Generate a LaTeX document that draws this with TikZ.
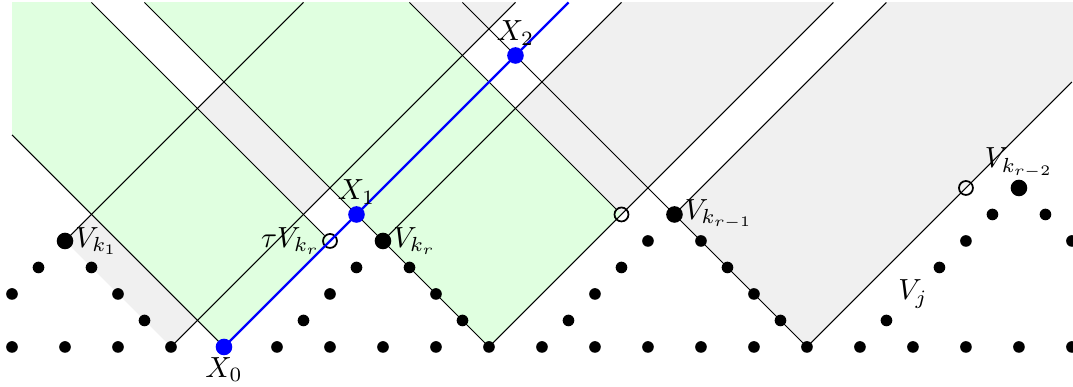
\documentclass[tikz,border=0pt]{standalone}
\usepackage{amsmath,amssymb}
\usepackage{xcolor}
\usepackage{tikz}
\usetikzlibrary{calc}

\begin{document}
\begin{tikzpicture}[
  x=0.32cm, y=0.32cm,
  every node/.style={font=\normalsize},
  dot/.style={circle, fill=black, inner sep=0pt, minimum size=4pt},
  bigdot/.style={circle, fill=black, inner sep=0pt, minimum size=5.7pt},
  walker/.style={circle, fill=blue, inner sep=0pt, minimum size=5.7pt},
  shifted/.style={circle, draw=black, line width=0.6pt, inner sep=0pt, minimum size=4.8pt},
  coneline/.style={black, line width=0.35pt},
]

%% ── Frame: one lattice step = 0.32 cm ────────────────────────────────────
\def\ytop{13}      % top of the shaded strip
\def\xright{40.04} % right edge of the picture
\useasboundingbox (-0.453,-1.51) rectangle (\xright,13.094);

%% ── Points ───────────────────────────────────────────────────────────────
\coordinate (X0) at (8,0);
\coordinate (X1) at (13,5);
\coordinate (X2) at (19,11);
\coordinate (Vk1) at (2,4);
\coordinate (Vkr) at (14,4);
\coordinate (Vkr1) at (25,5);
\coordinate (Vkr2) at (38,6);
\coordinate (tVkr) at (12,4);
\coordinate (tVkr1) at (23,5);
\coordinate (tVkr2) at (36,6);
\coordinate (B6) at (6,0);
\coordinate (B18) at (18,0);
\coordinate (B30) at (30,0);

% free ends of the cone lines (top and side edges)
\coordinate (left8) at (0,8);
\coordinate (right10) at (40,10);
\foreach \t in {3,5,11,15,17,19,21,23,31,33}
  \coordinate (top\t) at (\t,\ytop);

%% ── Shading: cones, even-odd ─────────────────────────────────────────────
\begin{scope}
  \clip (0,0) rectangle (\xright,\ytop);
  % strip under V_{k_1}: cone of B6 without the cone of V_{k_1}
  \fill[gray!12, even odd rule]
    (Vk1) -- (B6) -- ++(16,16) -- ++(-8,0) -- cycle
    foreach \p in {Vkr,B18,Vkr1,B30}{ (\p) -- ++(-16,16) -- ++(32,0) -- cycle };
  \fill[green!12, even odd rule]
    foreach \p in {X0,tVkr,B18,tVkr1}{ (\p) -- ++(-16,16) -- ++(32,0) -- cycle };
\end{scope}

%% ── Shifted points (open) ───────────────────────────────────────────────
\node[shifted] (tvkr) at (tVkr) {};
\node[shifted] (tvkr1) at (tVkr1) {};
\node[shifted] (tvkr2) at (tVkr2) {};

%% ── Cone lines ───────────────────────────────────────────────────────────
\draw[coneline] (X0) -- (left8);
\draw[coneline] (tvkr) -- (top3);
\draw[coneline] (B18) -- (top5);     % through V_{k_r} and X_1
\draw[coneline] (Vk1) -- (top11);
\draw[coneline] (B6) -- (top19);
\draw[coneline] (Vkr) -- (top23);
\draw[coneline] (tvkr1) -- (top15);
\draw[coneline] (B18) -- (top31);
\draw[coneline] (B30) -- (top17);    % through V_{k_{r-1}}
\draw[coneline] (Vkr1) -- (top33);
\draw[coneline] (B30) -- (right10);

% path of the walker
\draw[blue, line width=0.8pt] (X0) -- (X1) -- (X2) -- (top21);

%% ── Dots ─────────────────────────────────────────────────────────────────
\foreach \i in {0,2,...,40}
  \node[dot] (b\i) at (\i,0) {};
\foreach \i/\j [count=\n] in {1/3,0/2,3/3,4/2,5/1,
    13/3,12/2,11/1,15/3,16/2,17/1,
    24/4,23/3,22/2,21/1,26/4,27/3,28/2,29/1,
    37/5,36/4,35/3,33/1,39/5,40/4}
  \node[dot] (d\n) at (\i,\j) {};

\node[bigdot] (vk1) at (Vk1) {};
\node[bigdot] (vkr) at (Vkr) {};
\node[bigdot] (vkr1) at (Vkr1) {};
\node[bigdot] (vkr2) at (Vkr2) {};

\node[walker] (x0) at (X0) {};
\node[walker] (x1) at (X1) {};
\node[walker] (x2) at (X2) {};

%% ── Labels ───────────────────────────────────────────────────────────────
\node[below] (lx0) at (x0) {$X_0$};
\node[above] (lx1) at (x1) {$X_1$};
\node[above] (lx2) at (x2) {$X_2$};
\node[right] (lvk1) at (vk1) {$V_{k_1}$};
\node[left] (ltvkr) at (tvkr) {$\tau V_{k_r}$};
\node[right] (lvkr) at (vkr) {$V_{k_r}$};
\node[right] (lvkr1) at (vkr1) {$V_{k_{r-1}}$};
\node[above] (lvkr2) at (vkr2) {$V_{k_{r-2}}$};
\node (lvj) at (34,2) {$V_j$};

\end{tikzpicture}
\end{document}
